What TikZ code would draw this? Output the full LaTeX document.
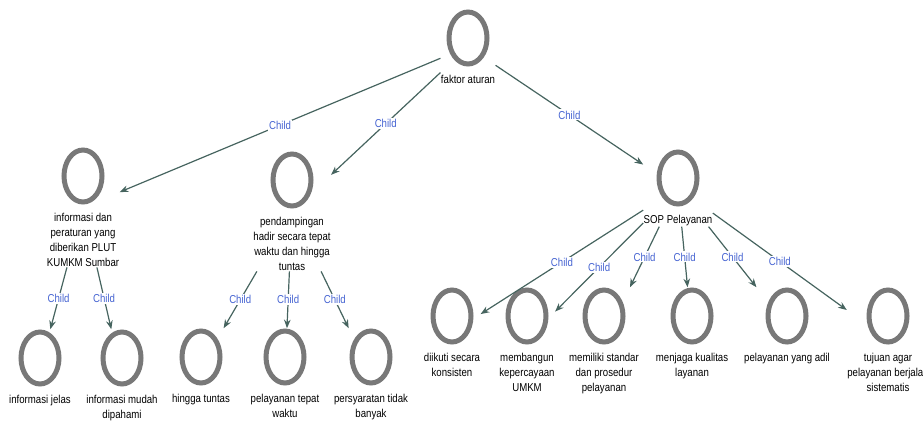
\documentclass[tikz,border=0pt]{standalone}
\usepackage{fontspec}
\setmainfont{Liberation Sans}[FakeStretch=0.84]
\usetikzlibrary{positioning,fit,shapes.geometric,arrows.meta}
\definecolor{ringgray}{RGB}{120,120,120}
\definecolor{linkgreen}{RGB}{70,100,95}
\definecolor{childblue}{RGB}{70,100,210}

\begin{document}
\begin{tikzpicture}[x=0.75pt,y=-0.75pt,
    ring/.style={draw=ringgray, line width=3.75pt, ellipse, minimum width=28.5pt, minimum height=39pt, inner sep=0pt},
    caption/.style={font=\fontsize{8.6}{11.25}\selectfont, align=center, inner sep=0pt},
    link/.style={draw=linkgreen, line width=0.9pt, -{Stealth[length=6.5pt,width=5pt]}},
    linklabel/.style={font=\fontsize{8.6}{10}\selectfont, text=childblue, fill=white, inner sep=1pt, midway}]
    \useasboundingbox (0,0) rectangle (923,422);
    % Codes
    \foreach \name/\x/\y/\txt in {
        aturan/468/38/{faktor aturan},
        informasi/83/176/{informasi dan\\peraturan yang\\diberikan PLUT\\KUMKM Sumbar},
        pendampingan/292/180/{pendampingan\\hadir secara tepat\\waktu dan hingga\\tuntas},
        sop/678/178/{SOP Pelayanan},
        jelas/40/358/{informasi jelas},
        mudah/122/358/{informasi mudah\\dipahami},
        tuntas/201/357/{hingga tuntas},
        tepat/285/357/{pelayanan tepat\\waktu},
        syarat/371/357/{persyaratan tidak\\banyak},
        konsisten/452/316/{diikuti secara\\konsisten},
        percaya/527/316/{membangun\\kepercayaan\\UMKM},
        standar/604/316/{memiliki standar\\dan prosedur\\pelayanan},
        kualitas/692/316/{menjaga kualitas\\layanan},
        adil/787/316/{pelayanan yang adil},
        sistematis/888/316/{tujuan agar\\pelayanan berjalan\\sistematis}} {
        \node[ring] (ring-\name) at (\x,\y) {};
        \node[caption, below=6.5pt of ring-\name] (cap-\name) {\txt};
        \node[fit=(ring-\name)(cap-\name), inner sep=0pt] (\name) {};
    }
    % Links
    \foreach \from/\to in {aturan/informasi, aturan/pendampingan, aturan/sop,
        informasi/jelas, informasi/mudah,
        pendampingan/tuntas, pendampingan/tepat, pendampingan/syarat,
        sop/konsisten, sop/percaya, sop/standar, sop/kualitas, sop/adil, sop/sistematis} {
        \draw[link] (\from) -- node[linklabel] {Child} (\to);
    }
\end{tikzpicture}
\end{document}
